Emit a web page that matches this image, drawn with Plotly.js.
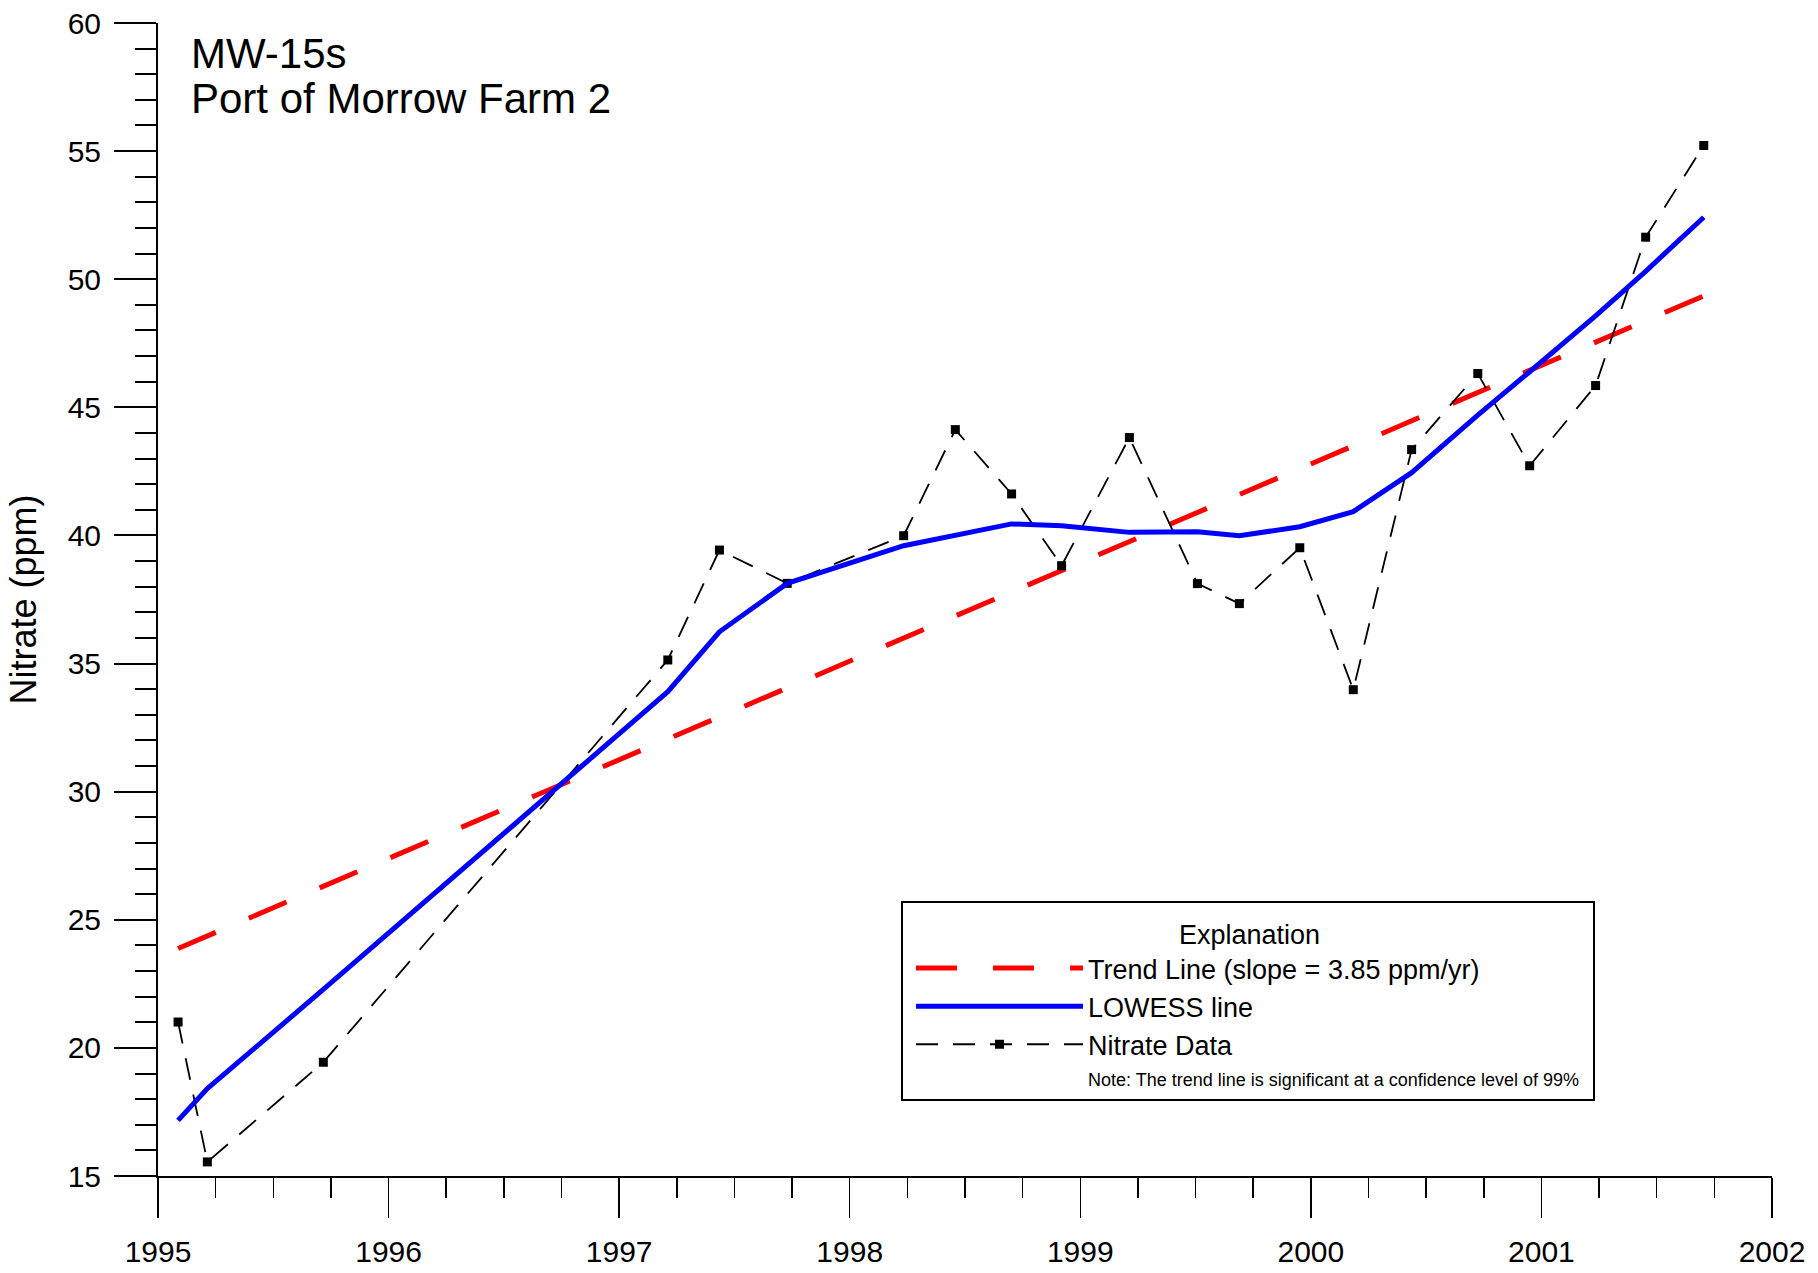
<!DOCTYPE html>
<html><head><meta charset="utf-8">
<script src="https://cdn.plot.ly/plotly-3.0.1.min.js"></script>
<style>html,body{margin:0;padding:0;background:#fff}</style>
</head><body>
<div id="chart" style="width:1818px;height:1273px"></div>
<script>
// Nitrate samples (decimal year, ppm)
const sampleYears = [1995.087, 1995.214, 1995.717, 1997.211, 1997.435, 1997.729, 1998.234, 1998.458, 1998.702, 1998.919, 1999.213, 1999.508, 1999.690, 1999.952, 2000.184, 2000.437, 2000.724, 2000.949, 2001.235, 2001.452, 2001.704];
const nitratePpm  = [21.01, 15.55, 19.44, 35.14, 39.43, 38.13, 39.99, 44.13, 41.62, 38.82, 43.82, 38.12, 37.34, 39.52, 33.98, 43.35, 46.32, 42.72, 45.85, 51.64, 55.22];
// LOWESS smooth at the sample dates
const lowessPpm   = [17.17, 18.41, 22.28, 33.90, 36.24, 38.13, 39.60, 40.01, 40.45, 40.38, 40.12, 40.14, 39.99, 40.34, 40.93, 42.45, 44.70, 46.39, 48.57, 50.31, 52.42];
// Trend line (slope = 3.85 ppm/yr)
const trendYears = [1995.087, 2001.704];
const trendPpm   = [23.88, 49.35];
// Tick labels
const yearTicks = [1995, 1996, 1997, 1998, 1999, 2000, 2001, 2002];
const ppmTicks  = [15, 20, 25, 30, 35, 40, 45, 50, 55, 60];

const FONT = 'Liberation Sans, Arial, Helvetica, sans-serif';

const traces = [
  {x: trendYears, y: trendPpm, type: 'scatter', mode: 'lines', name: 'Trend Line (slope = 3.85 ppm/yr)',
   line: {color: '#ff0000', width: 5, dash: '41px,36px'}, legendrank: 1},
  {x: sampleYears, y: nitratePpm, type: 'scatter', mode: 'lines+markers', name: 'Nitrate Data',
   line: {color: '#000000', width: 1.8, dash: '22px,15px'},
   marker: {symbol: 'square', size: 9, color: '#000000'}, legendrank: 3},
  {x: sampleYears, y: lowessPpm, type: 'scatter', mode: 'lines', name: 'LOWESS line',
   line: {color: '#0000ff', width: 5}, legendrank: 2}
];

const L = 158, R = 46, T = 23, B = 97;
const W = 1818, H = 1273;
const pw = W - L - R, ph = H - T - B;
const px = X => (X - L) / pw;
const py = Y => 1 - (Y - T) / ph;

const layout = {
  width: W, height: H,
  margin: {l: L, r: R, t: T, b: B, pad: 0},
  paper_bgcolor: '#fff', plot_bgcolor: '#fff',
  font: {family: FONT, color: '#000'},
  showlegend: true,
  title: {text: 'MW-15s', font: {family: FONT, size: 42, color: '#000'},
          xref: 'paper', x: px(191), xanchor: 'left', yref: 'container', y: 1 - 53.3 / H, yanchor: 'middle'},
  xaxis: {
    range: [1995, 2002], tickmode: 'array', tickvals: yearTicks, ticktext: yearTicks.map(String),
    ticks: 'outside', ticklen: 40, tickwidth: 1.5, tickcolor: '#000',
    showline: true, linecolor: '#000', linewidth: 2, showgrid: false, zeroline: false,
    tickfont: {family: FONT, size: 30, color: '#000'}, ticklabelstandoff: 8,
    minor: {tickmode: 'linear', tick0: 1995, dtick: 0.25, ticks: 'outside', ticklen: 20, tickwidth: 1.5, tickcolor: '#000', showgrid: false}
  },
  yaxis: {
    range: [15, 60], tickmode: 'array', tickvals: ppmTicks, ticktext: ppmTicks.map(String),
    ticks: 'outside', ticklen: 42, tickwidth: 2, tickcolor: '#000',
    showline: true, linecolor: '#000', linewidth: 2, showgrid: false, zeroline: false,
    tickfont: {family: FONT, size: 30, color: '#000'}, ticklabelstandoff: 7,
    minor: {tickmode: 'linear', tick0: 15, dtick: 1, ticks: 'outside', ticklen: 21, tickwidth: 2, tickcolor: '#000', showgrid: false},
    title: {text: 'Nitrate (ppm)', font: {family: FONT, size: 36, color: '#000'}, standoff: 20}
  },
  legend: {
    x: px(911), xanchor: 'left', y: py(944), yanchor: 'top',
    bgcolor: 'rgba(0,0,0,0)', borderwidth: 0, itemwidth: 167,
    font: {family: FONT, size: 27, color: '#000'}, traceorder: 'normal'
  },
  shapes: [
    {type: 'rect', xref: 'paper', yref: 'paper', x0: px(902), x1: px(1594), y0: py(1100), y1: py(902),
     line: {color: '#000', width: 2}, fillcolor: 'rgba(0,0,0,0)', layer: 'below'}
  ],
  annotations: [
    {text: 'Port of Morrow Farm 2', xref: 'paper', yref: 'paper', x: px(189), y: py(98.4), xanchor: 'left', yanchor: 'middle',
     showarrow: false, font: {family: FONT, size: 42, color: '#000'}},
    {text: 'Explanation', xref: 'paper', yref: 'paper', x: px(1249), y: py(935), xanchor: 'center', yanchor: 'middle',
     showarrow: false, font: {family: FONT, size: 27, color: '#000'}},
    {text: 'Note: The trend line is significant at a confidence level of 99%', xref: 'paper', yref: 'paper',
     x: px(1086), y: py(1079.5), xanchor: 'left', yanchor: 'middle', showarrow: false,
     font: {family: FONT, size: 18, color: '#000'}}
  ]
};

Plotly.newPlot('chart', traces, layout, {displayModeBar: false, staticPlot: true});
</script>
</body></html>
